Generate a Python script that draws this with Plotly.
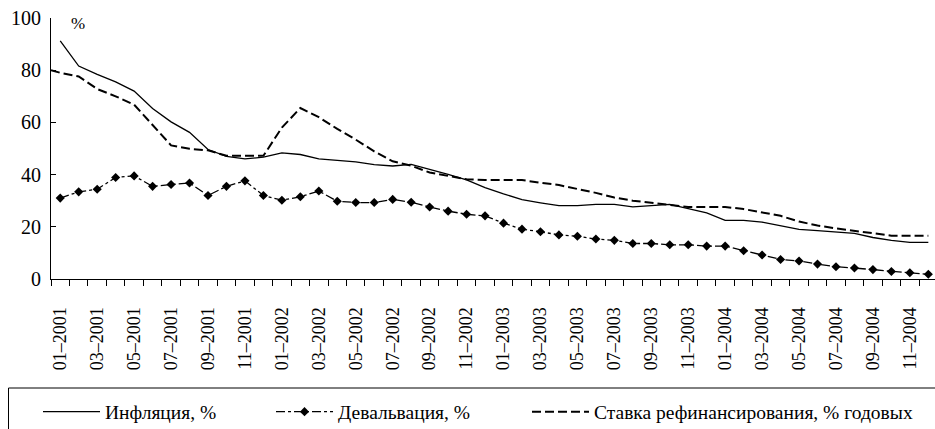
import plotly.graph_objects as go

# ---------------- data ----------------
categories = [
    "01–2001", "02–2001", "03–2001", "04–2001", "05–2001", "06–2001",
    "07–2001", "08–2001", "09–2001", "10–2001", "11–2001", "12–2001",
    "01–2002", "02–2002", "03–2002", "04–2002", "05–2002", "06–2002",
    "07–2002", "08–2002", "09–2002", "10–2002", "11–2002", "12–2002",
    "01–2003", "02–2003", "03–2003", "04–2003", "05–2003", "06–2003",
    "07–2003", "08–2003", "09–2003", "10–2003", "11–2003", "12–2003",
    "01–2004", "02–2004", "03–2004", "04–2004", "05–2004", "06–2004",
    "07–2004", "08–2004", "09–2004", "10–2004", "11–2004", "12–2004",
]

inflation = [
    91.2, 81.6, 78.4, 75.5, 72.0, 65.3, 60.2, 56.2, 49.6, 47.0, 46.0, 46.7,
    48.3, 47.7, 46.0, 45.4, 44.9, 43.8, 43.3, 43.9, 42.1, 40.1, 38.0, 35.0,
    32.6, 30.4, 29.2, 28.1, 28.1, 28.6, 28.6, 27.6, 28.1, 28.6, 27.0, 25.3,
    22.5, 22.5, 21.8, 20.5, 19.0, 18.5, 18.0, 17.5, 15.9, 14.8, 14.0, 14.0,
]

devaluation = [
    31.0, 33.4, 34.4, 38.9, 39.5, 35.5, 36.2, 36.8, 32.0, 35.5, 37.6, 32.0,
    30.2, 31.5, 33.7, 29.8, 29.3, 29.3, 30.5, 29.4, 27.6, 26.0, 24.8, 24.2,
    21.4, 19.1, 18.1, 16.9, 16.4, 15.3, 14.8, 13.6, 13.6, 13.1, 13.1, 12.6,
    12.6, 10.8, 9.2, 7.5, 6.9, 5.7, 4.7, 4.2, 3.6, 2.9, 2.4, 1.8,
]

# refinancing rate: value at the very start of the period, then monthly values
refi_start = 80.0
refinancing = [
    79.0, 77.6, 72.8, 70.0, 66.8, 59.0, 51.2, 49.9, 49.3, 47.2, 47.2, 47.2,
    58.0, 65.5, 62.0, 57.5, 53.4, 48.9, 45.1, 43.4, 40.8, 39.4, 38.2, 37.9,
    37.9, 37.9, 36.9, 36.0, 34.5, 33.0, 31.2, 30.0, 29.2, 28.3, 27.6, 27.6,
    27.6, 26.8, 25.6, 24.2, 22.0, 20.5, 19.4, 18.5, 17.4, 16.6, 16.6, 16.6,
]

y_ticks = [0, 20, 40, 60, 80, 100]
series_names = ["Инфляция, %", "Девальвация, %", "Ставка рефинансирования, % годовых"]
unit_label = "%"

# ---------------- figure ----------------
FONT = "Liberation Serif, Times New Roman, serif"
n = len(categories)
x_idx = list(range(n))
label_idx = x_idx[::2]
label_txt = [categories[i] for i in label_idx]

W, H = 935, 429
ML, MR, MT, MB = 51, 0, 18, 150
pw = W - ML - MR
ph = H - MT - MB
step = 18.47
x_lo = -0.5
x_hi = x_lo + pw / step

def px_to_paper_x(px):
    return (px - ML) / pw

def py_to_paper_y(py):
    return (H - MB - py) / ph

fig = go.Figure()

fig.add_trace(go.Scatter(
    x=x_idx, y=inflation, mode="lines", name=series_names[0],
    line=dict(color="black", width=1.3), legend="legend", showlegend=True,
))
fig.add_trace(go.Scatter(
    x=x_idx, y=devaluation, mode="lines+markers", name=series_names[1],
    line=dict(color="black", width=1.3, dash="dashdot"),
    marker=dict(symbol="diamond", size=7, color="black"),
    cliponaxis=False, legend="legend2", showlegend=True,
))
fig.add_trace(go.Scatter(
    x=[x_lo] + x_idx, y=[refi_start] + refinancing, mode="lines", name=series_names[2],
    line=dict(color="black", width=2, dash="9px,4px"), legend="legend3", showlegend=True,
))

leg_common = dict(
    orientation="h", yanchor="middle", xanchor="left",
    y=py_to_paper_y(412), bgcolor="rgba(0,0,0,0)", borderwidth=0,
    font=dict(family=FONT, size=19.5, color="black"), itemwidth=57,
)
fig.update_layout(
    width=W, height=H, showlegend=True,
    margin=dict(l=ML, r=MR, t=MT, b=MB, autoexpand=False),
    paper_bgcolor="white", plot_bgcolor="white",
    font=dict(family=FONT, size=18, color="black"),
    legend=dict(x=px_to_paper_x(38), **leg_common),
    legend2=dict(x=px_to_paper_x(271), **leg_common),
    legend3=dict(x=px_to_paper_x(527), **leg_common),
    xaxis=dict(
        range=[x_lo, x_hi], showgrid=False, zeroline=False,
        showline=True, linecolor="black", linewidth=1,
        tickmode="array", tickvals=label_idx, ticktext=label_txt,
        tickangle=-90, ticks="", ticklabelstandoff=20,
        minor=dict(tickmode="linear", tick0=-0.5, dtick=1, ticks="outside",
                   ticklen=6, tickcolor="black", tickwidth=1, showgrid=False),
        tickfont=dict(family=FONT, size=18, color="black"),
    ),
    yaxis=dict(
        range=[0, 100], showgrid=False, zeroline=False,
        showline=True, linecolor="black", linewidth=1,
        tickmode="array", tickvals=y_ticks,
        ticks="inside", ticklen=5, tickcolor="black",
        ticklabelstandoff=5,
        tickfont=dict(family=FONT, size=20, color="black"),
    ),
    annotations=[dict(
        text=unit_label, xref="paper", yref="paper",
        x=px_to_paper_x(78), y=py_to_paper_y(24),
        xanchor="center", yanchor="middle", showarrow=False,
        font=dict(family=FONT, size=17, color="black"),
    )],
    shapes=[dict(
        type="rect", xref="paper", yref="paper", layer="below",
        x0=px_to_paper_x(8.5), x1=px_to_paper_x(W + 20),
        y0=py_to_paper_y(388), y1=py_to_paper_y(H + 20),
        line=dict(color="black", width=1), fillcolor="rgba(0,0,0,0)",
    )],
)

fig.write_html("out.html", config={"displayModeBar": False},
               post_script="document.body.style.margin='0';")
